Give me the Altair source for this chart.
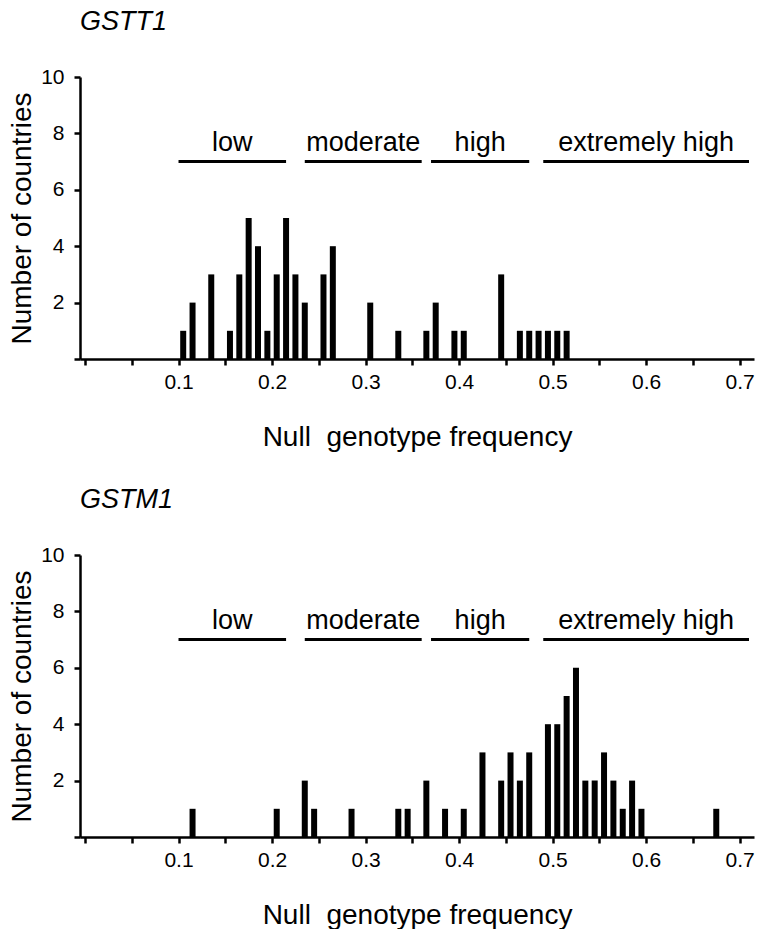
import altair as alt
import pandas as pd

# ---------------- data ----------------
BIN_WIDTH = 0.01
cat_labels = ["low", "moderate", "high", "extremely high"]

# GSTT1 (bin lower edges and number of countries)
gstt1_bins = [0.10, 0.11, 0.13, 0.15, 0.16, 0.17, 0.18, 0.19, 0.20, 0.21,
              0.22, 0.23, 0.25, 0.26, 0.30, 0.33, 0.36, 0.37, 0.39, 0.40,
              0.44, 0.46, 0.47, 0.48, 0.49, 0.50, 0.51]
gstt1_counts = [1, 2, 3, 1, 3, 5, 4, 1, 3, 5,
                3, 2, 3, 4, 2, 1, 1, 2, 1, 1,
                3, 1, 1, 1, 1, 1, 1]
gstt1_cat_start = [0.10, 0.235, 0.37, 0.49]
gstt1_cat_end = [0.215, 0.36, 0.475, 0.71]

# GSTM1
gstm1_bins = [0.11, 0.20, 0.23, 0.24, 0.28, 0.33, 0.34, 0.36, 0.38, 0.40,
              0.42, 0.44, 0.45, 0.46, 0.47, 0.49, 0.50, 0.51, 0.52, 0.53,
              0.54, 0.55, 0.56, 0.57, 0.58, 0.59, 0.67]
gstm1_counts = [1, 1, 2, 1, 1, 1, 1, 2, 1, 1,
                3, 2, 3, 2, 3, 4, 4, 5, 6, 2,
                2, 3, 2, 1, 2, 1, 1]
gstm1_cat_start = [0.10, 0.235, 0.37, 0.49]
gstm1_cat_end = [0.215, 0.36, 0.475, 0.71]

x_tick_values = [0, 0.05, 0.1, 0.15, 0.2, 0.25, 0.3, 0.35, 0.4, 0.45, 0.5, 0.55, 0.6, 0.65, 0.7]
y_tick_values = [0, 2, 4, 6, 8, 10]
category_level = 7

FONT = "Liberation Sans"
W, H = 674, 282
X_TITLE = "Null\u00a0 genotype frequency"
Y_TITLE = "Number of countries"


def panel(title, bins, counts, cat_start, cat_end):
    bars_df = pd.DataFrame({"bin": bins, "count": counts})
    cats_df = pd.DataFrame({"label": cat_labels, "start": cat_start, "end": cat_end})
    xscale = alt.Scale(domain=[0, 0.71], nice=False, zero=False)
    yscale = alt.Scale(domain=[0, 10], nice=False)
    xaxis = alt.Axis(values=x_tick_values,
                     labelExpr="datum.value > 0.09 && abs(datum.value * 10 - round(datum.value * 10)) < 0.001 ? format(datum.value, '.1f') : ''",
                     labelFontSize=21, titleFontSize=28, tickSize=6,
                     tickWidth=2.5, domainWidth=2.5, labelPadding=6,
                     titlePadding=31, labelFlush=False)
    yaxis = alt.Axis(values=y_tick_values,
                     labelExpr="datum.value == 0 ? '' : datum.label",
                     labelFontSize=21, titleFontSize=28, tickSize=6,
                     tickWidth=2.5, domainWidth=2.5, labelPadding=10,
                     titlePadding=4)

    bars = alt.Chart(bars_df).transform_calculate(
        center=f"datum.bin + {BIN_WIDTH / 2}"
    ).mark_bar(size=6, color="black").encode(
        x=alt.X("center:Q", scale=xscale, title=X_TITLE, axis=xaxis),
        y=alt.Y("count:Q", scale=yscale, title=Y_TITLE, axis=yaxis),
    )

    rules = alt.Chart(cats_df).mark_rule(color="black", strokeWidth=3).encode(
        x=alt.X("start:Q", scale=xscale, title=X_TITLE, axis=xaxis),
        x2="end:Q",
        y=alt.datum(category_level),
    )

    texts = alt.Chart(cats_df).transform_calculate(
        mid="(datum.start + datum.end) / 2"
    ).mark_text(fontSize=27, baseline="bottom", dy=-5, color="black", font=FONT).encode(
        x=alt.X("mid:Q", scale=xscale, title=X_TITLE, axis=xaxis),
        y=alt.datum(category_level),
        text="label:N",
    )

    return alt.layer(bars, rules, texts).properties(
        width=W, height=H,
        title=alt.TitleParams(title, anchor="start", frame="group", fontStyle="italic",
                              fontSize=27, fontWeight="normal", offset=30,
                              font=FONT, color="black"),
    )


chart = alt.vconcat(
    panel("GSTT1", gstt1_bins, gstt1_counts, gstt1_cat_start, gstt1_cat_end),
    panel("GSTM1", gstm1_bins, gstm1_counts, gstm1_cat_start, gstm1_cat_end),
    spacing=35,
).properties(padding=0).configure_view(stroke=None).configure_axis(
    grid=False, domainColor="black", tickColor="black", labelColor="black",
    titleColor="black", labelFont=FONT, titleFont=FONT, titleFontWeight="normal",
).configure_text(font=FONT)

chart.save("out.html", embed_options={"renderer": "svg", "actions": False})
